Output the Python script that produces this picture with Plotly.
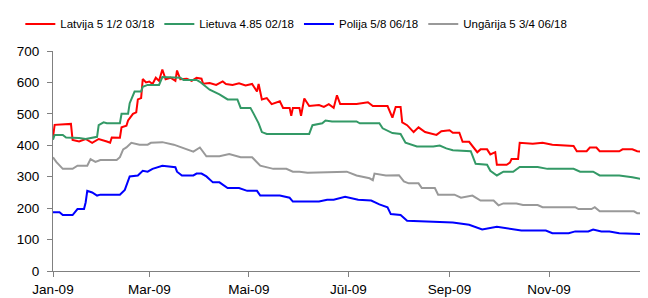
import pandas as pd
import plotly.graph_objects as go

START = pd.Timestamp("2009-01-01")

# Latvija 5 1/2 03/18 (day of 2009, spread bp)
lv_day = [0,1,11,12,16,20,24,27,28,33,35,36,41,42,45,46,49,51,52,54,55,57,59,61,63,65,67,69,72,75,
          76,78,82,85,88,91,92,96,100,104,106,110,114,118,122,125,126,128,131,134,137,139,141,145,146,147,151,152,154,157,
          163,166,169,172,174,176,186,193,196,205,208,210,213,214,217,221,224,228,235,238,243,245,249,251,255,260,262,266,268,271,
          272,278,280,281,285,286,294,300,306,315,319,321,327,329,333,335,347,349,355,358,364]
lv_val = [425,465,468,417,412,420,408,418,420,412,408,425,424,457,462,479,500,505,546,550,611,600,603,595,615,605,641,610,615,605,
          638,610,612,605,615,612,596,598,592,603,595,592,597,590,595,571,595,546,550,531,535,540,519,519,494,519,519,494,549,525,
          528,522,531,519,559,531,531,537,525,525,488,522,522,473,464,442,457,442,433,445,448,440,440,411,411,378,387,387,371,378,
          338,338,345,356,356,408,405,408,402,400,398,381,381,393,393,381,381,387,387,381,378]

# Lietuva 4.85 02/18
lt_day = [0,1,6,8,16,20,27,28,31,33,41,42,46,47,50,54,55,58,65,67,78,80,88,90,96,102,107,113,115,121,
          123,126,128,131,157,159,165,167,171,186,188,200,202,208,213,216,223,233,237,241,245,256,259,266,268,272,276,282,286,297,
          303,319,323,331,335,347,355,364]
lt_val = [418,433,433,425,423,420,427,464,473,470,470,500,500,534,571,571,586,592,592,617,615,608,608,602,577,562,546,546,519,519,
          500,470,442,436,436,464,470,479,476,476,470,470,454,439,436,408,396,396,399,390,384,381,341,338,319,304,316,316,331,331,
          325,325,316,316,304,304,298,289]

# Polija 5/8 06/18
pl_day = [0,4,6,12,15,19,20,21,24,27,29,41,44,47,52,55,58,61,67,72,75,76,79,86,88,91,94,98,102,107,
          114,119,125,127,139,145,147,163,168,172,179,187,195,200,205,207,213,217,230,245,
          255,263,272,280,287,302,306,316,320,328,331,336,341,347,364]
pl_val = [187,187,178,178,197,197,218,255,250,240,243,243,258,301,304,319,316,325,335,332,330,316,304,304,310,310,301,282,282,264,
          264,255,255,240,240,233,221,221,227,227,236,227,224,212,203,181,178,160,157,154,
          147,132,141,135,129,129,120,120,126,126,132,126,126,120,117]

# Ungārija 5 3/4 06/18
hu_day = [0,2,6,12,15,21,23,26,29,39,41,43,45,48,53,58,60,67,74,82,86,90,94,102,108,115,122,127,135,143,
          147,151,156,180,186,194,196,197,204,212,215,218,224,226,234,236,246,250,257,262,270,273,276,284,288,297,300,320,322,330,
          332,335,356,358,364]
hu_val = [362,347,325,325,335,335,356,347,353,353,362,387,393,408,402,402,408,410,402,387,380,393,365,365,372,362,362,335,325,325,
          316,316,313,316,304,295,289,310,304,305,285,279,279,264,264,243,243,233,240,224,224,209,215,215,210,210,203,203,197,197,
          203,190,190,184,184]

series_names = ["Latvija 5 1/2 03/18", "Lietuva 4.85 02/18", "Polija 5/8 06/18", "Ungārija 5 3/4 06/18"]
series_colors = ["#FF0000", "#339966", "#0000FF", "#999999"]

tick_dates = ["2009-01-01", "2009-03-01", "2009-05-01", "2009-07-01", "2009-09-01", "2009-11-01"]
tick_labels = ["Jan-09", "Mar-09", "Mai-09", "Jūl-09", "Sep-09", "Nov-09"]


def to_dates(days):
    return START + pd.to_timedelta(days, unit="D")


fig = go.Figure()
for name, color, days, vals in zip(series_names, series_colors,
                                   [lv_day, lt_day, pl_day, hu_day],
                                   [lv_val, lt_val, pl_val, hu_val]):
    fig.add_trace(go.Scatter(x=to_dates(days), y=vals, mode="lines", name=name,
                             line=dict(color=color, width=2)))

axis_color = "#808080"
fig.update_layout(
    width=640, height=290,
    margin=dict(l=45, r=1, t=35, b=27),
    paper_bgcolor="white", plot_bgcolor="white",
    font=dict(family="Liberation Sans, Arial, sans-serif", size=13.5, color="black"),
    showlegend=True,
    legend=dict(orientation="h", x=-0.055, xanchor="left",
                y=1.123, yanchor="middle",
                font=dict(size=11.5), itemwidth=30, tracegroupgap=0,
                bgcolor="rgba(0,0,0,0)"),
    xaxis=dict(range=[START, START + pd.Timedelta(days=364)],
               tickvals=tick_dates, ticktext=tick_labels,
               showline=True, linecolor=axis_color, linewidth=1,
               ticks="outside", ticklen=5, tickcolor=axis_color,
               ticklabelstandoff=1,
               showgrid=False, zeroline=False),
    yaxis=dict(range=[0, 700], dtick=100, tick0=0,
               showline=True, linecolor=axis_color, linewidth=1,
               ticks="outside", ticklen=5, tickcolor=axis_color,
               ticklabelstandoff=5,
               showgrid=False, zeroline=False),
)

fig.write_html("out.html")
